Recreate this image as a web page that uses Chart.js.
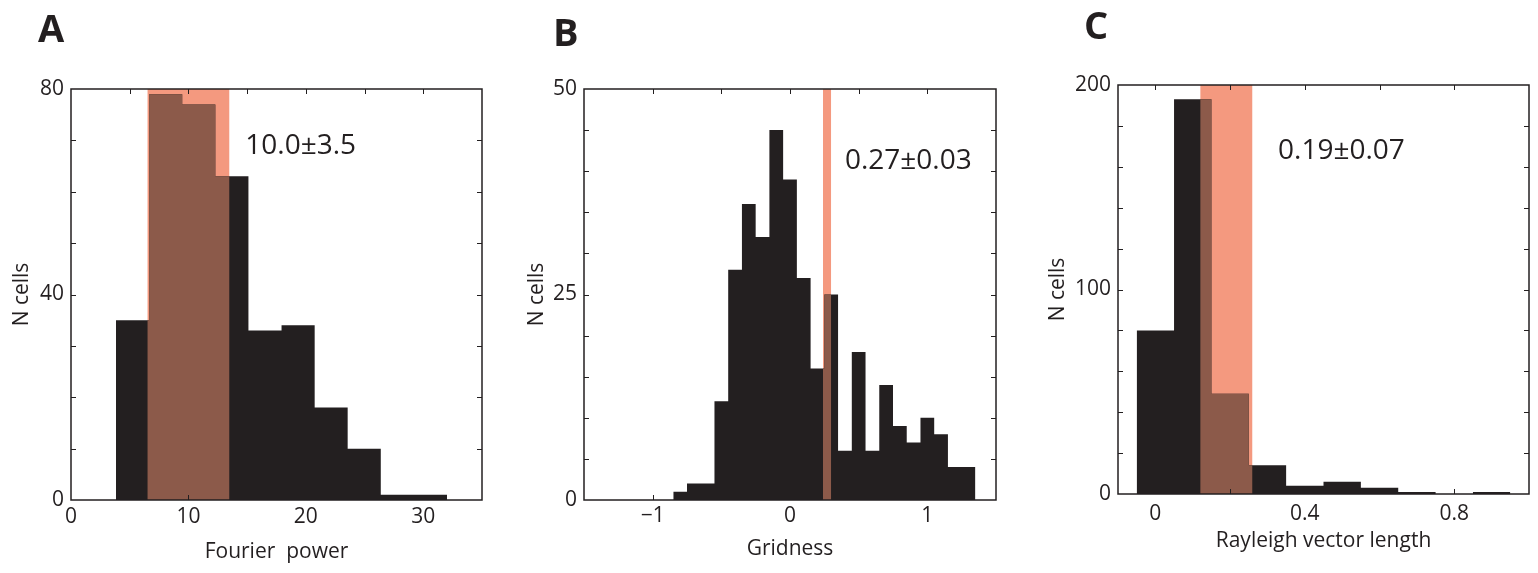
<!DOCTYPE html>
<html>
<head>
<meta charset="utf-8">
<script src="https://cdn.jsdelivr.net/npm/chart.js@4.4.1/dist/chart.umd.min.js"></script>
<style>
  html, body { margin: 0; padding: 0; background: #fff; }
  #wrap { position: relative; width: 1538px; height: 573px; overflow: hidden; }
  canvas { position: absolute; top: 0; }
</style>
</head>
<body>
<div id="wrap">
  <canvas id="panelA" width="515" height="573" style="left:0px"></canvas>
  <canvas id="panelB" width="515" height="573" style="left:515px"></canvas>
  <canvas id="panelC" width="508" height="573" style="left:1030px"></canvas>
</div>
<script>
const INK = '#231f20';
const PINK = '#f4997f';
const BROWN = '#8c5a4a';
const FONT = '"Open Sans", "Noto Sans", sans-serif';

// A - Fourier power
const edgesA = [3.83, 6.65, 9.47, 12.29, 15.11, 17.93, 20.75, 23.56, 26.38, 29.20, 32.02];
const countsA = [35, 79, 77, 63, 33, 34, 18, 10, 1, 1];
const meanA = 10.0, sdA = 3.5;
const xLabelsA = [0, 10, 20, 30];
const yLabelsA = [0, 40, 80];

// B - gridness
const edgesB = [-0.85, -0.75, -0.65, -0.55, -0.45, -0.35, -0.25, -0.15, -0.05, 0.05, 0.15, 0.25,
                0.35, 0.45, 0.55, 0.65, 0.75, 0.85, 0.95, 1.05, 1.15, 1.25, 1.35];
const countsB = [1, 2, 2, 12, 28, 36, 32, 45, 39, 27, 16, 25, 6, 18, 6, 14, 9, 7, 10, 8, 4, 4];
const meanB = 0.27, sdB = 0.03;
const xLabelsB = [-1, 0, 1];
const yLabelsB = [0, 25, 50];

// C - Rayleigh vector length
const edgesC = [-0.05, 0.05, 0.15, 0.25, 0.35, 0.45, 0.55, 0.65, 0.75, 0.85, 0.95];
const countsC = [80, 193, 49, 14, 4, 6, 3, 1, 0, 1];
const meanC = 0.19, sdC = 0.07;
const xLabelsC = [0, 0.4, 0.8];
const yLabelsC = [0, 100, 200];

// outline of a histogram as a closed step polygon, optionally cut to [lo, hi]
function stepOutline(edges, counts, lo, hi) {
  const a = lo === undefined ? edges[0] : lo;
  const b = hi === undefined ? edges[edges.length - 1] : hi;
  const pts = [{x: a, y: 0}];
  for (let i = 0; i < counts.length; i++) {
    const x0 = Math.max(edges[i], a), x1 = Math.min(edges[i + 1], b);
    if (x1 <= x0) continue;
    pts.push({x: x0, y: counts[i]}, {x: x1, y: counts[i]});
  }
  pts.push({x: b, y: 0});
  return pts;
}

function fmt(v) {
  return String(v).replace('-', '\u2212');
}

function labelOnly(list) {
  return v => {
    const hit = list.find(l => Math.abs(l - v) < 1e-6);
    return hit === undefined ? '' : fmt(hit);
  };
}

// box, inward ticks on all four sides, the mean±sd note and the panel letter
const boxAxes = {
  id: 'boxAxes',
  afterDatasetsDraw(chart, args, opts) {
    const {ctx, chartArea: a, scales: {x, y}} = chart;
    const len = 5;
    ctx.save();
    ctx.strokeStyle = INK;
    ctx.lineWidth = 1;
    ctx.beginPath();
    x.ticks.forEach(t => {
      const px = Math.round(x.getPixelForValue(t.value)) + 0.5;
      if (px - a.left < 3 || a.right - px < 3) return;
      ctx.moveTo(px, a.bottom); ctx.lineTo(px, a.bottom - len);
      ctx.moveTo(px, a.top); ctx.lineTo(px, a.top + len);
    });
    y.ticks.forEach(t => {
      const py = Math.round(y.getPixelForValue(t.value)) + 0.5;
      if (py - a.top < 3 || a.bottom - py < 3) return;
      ctx.moveTo(a.left, py); ctx.lineTo(a.left + len, py);
      ctx.moveTo(a.right, py); ctx.lineTo(a.right - len, py);
    });
    ctx.stroke();
    ctx.lineWidth = 1.5;
    ctx.strokeRect(a.left, a.top, a.right - a.left, a.bottom - a.top);

    ctx.fillStyle = INK;
    ctx.font = '28px ' + FONT;
    ctx.textAlign = 'left';
    ctx.textBaseline = 'middle';
    ctx.fillText(opts.note, x.getPixelForValue(opts.noteAt[0]), y.getPixelForValue(opts.noteAt[1]));

    ctx.font = 'bold 38px ' + FONT;
    ctx.textBaseline = 'alphabetic';
    ctx.fillText(opts.letter, opts.letterAt[0], opts.letterAt[1]);
    ctx.restore();
  }
};

function makePanel(id, p) {
  const lo = p.mean - p.sd, hi = p.mean + p.sd;
  const top = p.yLabels[p.yLabels.length - 1];
  const tickFont = {family: FONT, size: 21};
  const area = {fill: 'origin', borderWidth: 0, borderColor: 'rgba(0,0,0,0)', pointRadius: 0, tension: 0};

  new Chart(document.getElementById(id), {
    type: 'line',
    data: {
      datasets: [
        Object.assign({data: stepOutline(p.edges, p.counts, lo, hi), backgroundColor: BROWN, order: 1}, area),
        Object.assign({data: stepOutline(p.edges, p.counts), backgroundColor: INK, order: 2}, area),
        Object.assign({data: [{x: lo, y: top}, {x: hi, y: top}], backgroundColor: PINK, order: 3}, area)
      ]
    },
    options: {
      responsive: false,
      animation: false,
      devicePixelRatio: 1,
      events: [],
      layout: {padding: {left: 0, top: p.padTop, right: p.padRight, bottom: 0}},
      plugins: {
        legend: {display: false},
        tooltip: {enabled: false},
        boxAxes: {
          note: p.mean.toFixed(p.digits) + '\u00b1' + p.sd.toFixed(p.digits),
          noteAt: p.noteAt,
          letter: p.letter,
          letterAt: p.letterAt
        }
      },
      scales: {
        x: {
          type: 'linear',
          min: p.xMin, max: p.xMax,
          grid: {display: false, drawTicks: false},
          border: {display: false},
          ticks: {stepSize: p.xStep, includeBounds: false, autoSkip: false, maxRotation: 0,
                  padding: p.xTickPad, color: INK, font: tickFont, callback: labelOnly(p.xLabels)},
          title: {display: true, text: p.xTitle, color: INK, font: tickFont,
                  padding: {top: 0, bottom: p.xTitlePad}},
          afterFit: s => { s.height = p.xAxisH; }
        },
        y: {
          type: 'linear',
          min: 0, max: top,
          grid: {display: false, drawTicks: false},
          border: {display: false},
          ticks: {stepSize: p.yStep, includeBounds: false, autoSkip: false, padding: 7,
                  color: INK, font: tickFont, callback: labelOnly(p.yLabels)},
          title: {display: true, text: 'N cells', color: INK, font: tickFont,
                  padding: {top: p.yTitlePad, bottom: 0}},
          afterFit: s => { s.width = p.yAxisW; }
        }
      }
    },
    plugins: [boxAxes]
  });
}

function drawAll() {
  makePanel('panelA', {
    edges: edgesA, counts: countsA, mean: meanA, sd: sdA, digits: 1,
    xLabels: xLabelsA, yLabels: yLabelsA, xMin: 0, xMax: 35, xStep: 5, yStep: 10,
    xTitle: 'Fourier  power', letter: 'A', letterAt: [38, 42], noteAt: [14.84, 68.9],
    padTop: 89, padRight: 33, yAxisW: 71, xAxisH: 73, xTickPad: 4, xTitlePad: 8, yTitlePad: 9
  });
  makePanel('panelB', {
    edges: edgesB, counts: countsB, mean: meanB, sd: sdB, digits: 2,
    xLabels: xLabelsB, yLabels: yLabelsB, xMin: -1.5, xMax: 1.5, xStep: 0.5, yStep: 5,
    xTitle: 'Gridness', letter: 'B', letterAt: [38, 46], noteAt: [0.40, 41.2],
    padTop: 89, padRight: 34, yAxisW: 69, xAxisH: 73, xTickPad: 3, xTitlePad: 11, yTitlePad: 9
  });
  makePanel('panelC', {
    edges: edgesC, counts: countsC, mean: meanC, sd: sdC, digits: 2,
    xLabels: xLabelsC, yLabels: yLabelsC, xMin: -0.1, xMax: 1.0, xStep: 0.2, yStep: 20,
    xTitle: 'Rayleigh vector length', letter: 'C', letterAt: [54, 39], noteAt: [0.3285, 167.9],
    padTop: 85, padRight: 9, yAxisW: 88, xAxisH: 79, xTickPad: 7, xTitlePad: 19, yTitlePad: 15
  });
}

Promise.all([
  document.fonts.load('21px "Open Sans"'),
  document.fonts.load('bold 38px "Open Sans"')
]).then(drawAll, drawAll);
</script>
</body>
</html>
